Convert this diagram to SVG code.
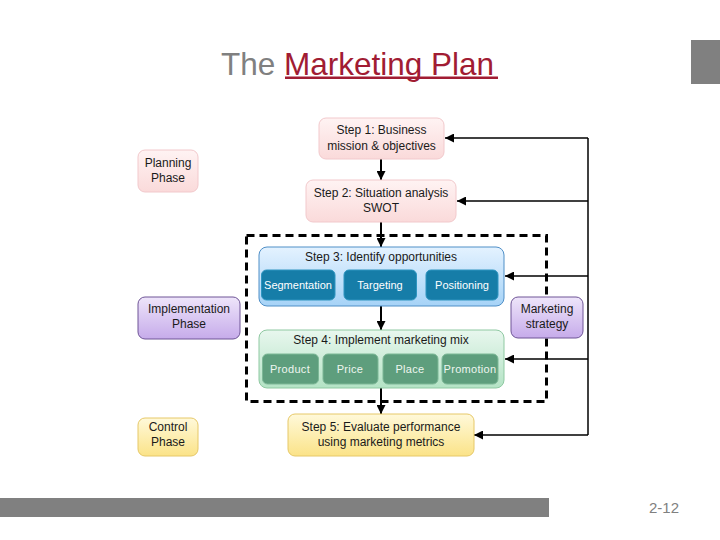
<svg xmlns="http://www.w3.org/2000/svg" width="720" height="540" viewBox="0 0 720 540">
<defs>
<linearGradient id="gPink" x1="0" y1="0" x2="0" y2="1"><stop offset="0" stop-color="#FFF3F3"/><stop offset="1" stop-color="#FADADA"/></linearGradient>
<linearGradient id="gPurple" x1="0" y1="0" x2="0" y2="1"><stop offset="0" stop-color="#EEE5FA"/><stop offset="1" stop-color="#C6ABEA"/></linearGradient>
<linearGradient id="gYellow" x1="0" y1="0" x2="0" y2="1"><stop offset="0" stop-color="#FFF9DA"/><stop offset="1" stop-color="#FBE388"/></linearGradient>
<linearGradient id="gBlue" x1="0" y1="0" x2="0" y2="1"><stop offset="0" stop-color="#E4F2FF"/><stop offset="1" stop-color="#A6D3F7"/></linearGradient>
<linearGradient id="gGreen" x1="0" y1="0" x2="0" y2="1"><stop offset="0" stop-color="#E8F7EE"/><stop offset="1" stop-color="#B4E3C5"/></linearGradient>
<marker id="ah" viewBox="0 0 10 10" refX="10" refY="5" markerWidth="9" markerHeight="9" markerUnits="userSpaceOnUse" orient="auto">
<path d="M0,0 L10,5 L0,10 Z" fill="#000"/>
</marker>
<style>
text{font-family:"Liberation Sans",Arial,sans-serif;font-size:12px;fill:#1a1a1a;text-anchor:middle}
.pink{fill:url(#gPink);stroke:#F2C9CC;stroke-width:1}
.purple{fill:url(#gPurple);stroke:#6E5496;stroke-width:1}
.yellow{fill:url(#gYellow);stroke:#E6C868;stroke-width:1}
.blue{fill:url(#gBlue);stroke:#4F8FC7;stroke-width:1}
.green{fill:url(#gGreen);stroke:#8FC9A2;stroke-width:1}
.dblue{fill:#167DA8;stroke:#2E95C0;stroke-width:1}
.dgreen{fill:#5E9E7D;stroke:#7DB897;stroke-width:1}
.sub{font-size:11px;fill:#ffffff}
.subg{font-size:11px;fill:#EEF6F0;letter-spacing:0.3px}
.conn{stroke:#000;stroke-width:2;fill:none}
.fb{stroke:#000;stroke-width:1.5;fill:none}
</style>
</defs>
<rect width="720" height="540" fill="#ffffff"/>
<g id="title">
<text x="221" y="75" style="font-size:31.5px;text-anchor:start;fill:#808080">The <tspan style="fill:#A11C33">Marketing Plan</tspan></text>
<rect x="285" y="76.5" width="213" height="2.5" fill="#A11C33"/>
<rect x="691" y="40" width="29" height="44" fill="#808080"/>
</g>
<g id="footer">
<rect x="0" y="498" width="549" height="19" fill="#808080"/>
<text x="664" y="513" style="font-size:15px;fill:#808080">2-12</text>
</g>
<g id="dashed-region">
<rect x="246.5" y="235.5" width="300" height="166" fill="none" stroke="#000" stroke-width="3" stroke-dasharray="8 5"/>
</g>
<g id="connectors">
<line class="conn" x1="381" y1="159" x2="381" y2="180" marker-end="url(#ah)"/>
<line class="conn" x1="381" y1="222" x2="381" y2="247" marker-end="url(#ah)"/>
<line class="conn" x1="381" y1="306" x2="381" y2="330" marker-end="url(#ah)"/>
<line class="conn" x1="381" y1="388" x2="381" y2="414" marker-end="url(#ah)"/>
<polyline class="fb" points="588,138 588,435"/>
<line class="fb" x1="588" y1="138" x2="445" y2="138" marker-end="url(#ah)"/>
<line class="fb" x1="588" y1="201" x2="457" y2="201" marker-end="url(#ah)"/>
<line class="fb" x1="588" y1="276" x2="505" y2="276" marker-end="url(#ah)"/>
<line class="fb" x1="588" y1="359" x2="505" y2="359" marker-end="url(#ah)"/>
<line class="fb" x1="588" y1="435" x2="474" y2="435" marker-end="url(#ah)"/>
</g>
<g id="step1">
<rect class="pink" x="319" y="118" width="125" height="41" rx="7"/>
<text x="381.5" y="134">Step 1: Business</text>
<text x="381.5" y="150">mission &amp; objectives</text>
</g>
<g id="planning-phase">
<rect class="pink" x="138" y="150" width="60" height="42" rx="7"/>
<text x="168" y="167">Planning</text>
<text x="168" y="182">Phase</text>
</g>
<g id="step2">
<rect class="pink" x="306" y="180" width="150" height="42" rx="7"/>
<text x="381" y="197">Step 2: Situation analysis</text>
<text x="381" y="212">SWOT</text>
</g>
<g id="step3">
<rect class="blue" x="259" y="247" width="245" height="59" rx="8"/>
<text x="381" y="261">Step 3: Identify opportunities</text>
<rect class="dblue" x="261.5" y="270" width="73.5" height="30" rx="5"/>
<text class="sub" x="298" y="289">Segmentation</text>
<rect class="dblue" x="344" y="270" width="72.5" height="30" rx="5"/>
<text class="sub" x="380" y="289">Targeting</text>
<rect class="dblue" x="426" y="270" width="72" height="30" rx="5"/>
<text class="sub" x="462" y="289">Positioning</text>
</g>
<g id="implementation-phase">
<rect class="purple" x="138" y="297" width="102" height="42" rx="7"/>
<text x="189" y="313">Implementation</text>
<text x="189" y="328">Phase</text>
</g>
<g id="marketing-strategy">
<rect class="purple" x="511" y="297" width="72" height="41" rx="7"/>
<text x="547" y="313">Marketing</text>
<text x="547" y="328">strategy</text>
</g>
<g id="step4">
<rect class="green" x="259" y="330" width="245" height="58" rx="8"/>
<text x="381" y="344">Step 4: Implement marketing mix</text>
<rect class="dgreen" x="262.5" y="354" width="56" height="30" rx="5"/>
<text class="subg" x="290" y="373">Product</text>
<rect class="dgreen" x="323" y="354" width="55" height="30" rx="5"/>
<text class="subg" x="350" y="373">Price</text>
<rect class="dgreen" x="383" y="354" width="55" height="30" rx="5"/>
<text class="subg" x="410" y="373">Place</text>
<rect class="dgreen" x="442" y="354" width="56" height="30" rx="5"/>
<text class="subg" x="470" y="373">Promotion</text>
</g>
<g id="control-phase">
<rect class="yellow" x="138" y="418" width="60" height="38" rx="7"/>
<text x="168" y="431">Control</text>
<text x="168" y="446">Phase</text>
</g>
<g id="step5">
<rect class="yellow" x="288" y="414" width="186" height="42" rx="7"/>
<text x="381" y="431">Step 5: Evaluate performance</text>
<text x="381" y="446">using marketing metrics</text>
</g>
</svg>
